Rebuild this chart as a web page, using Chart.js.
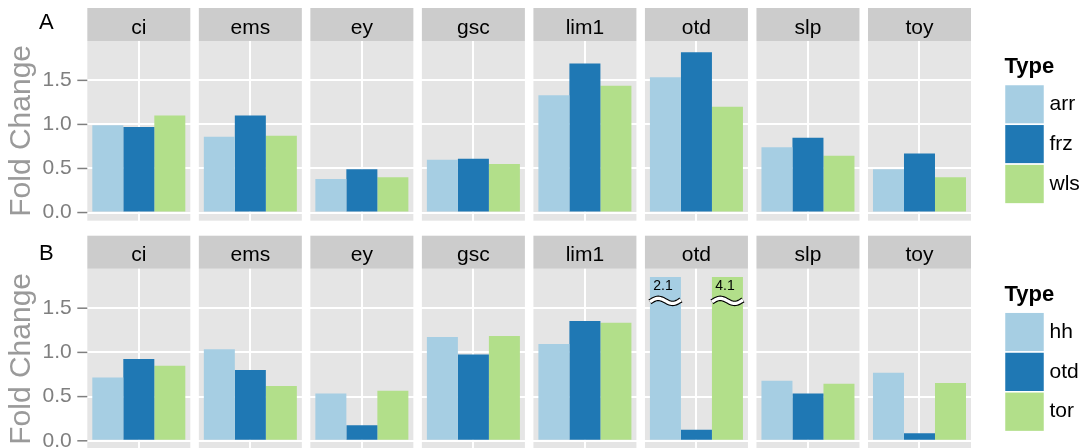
<!DOCTYPE html>
<html>
<head>
<meta charset="utf-8">
<script src="https://cdn.jsdelivr.net/npm/chart.js@4.4.1/dist/chart.umd.min.js"></script>
<style>
  body { margin: 0; background: #fff; overflow: hidden; width: 1084px; height: 448px; }
  .row { position: absolute; left: 0; width: 1084px; }
</style>
</head>
<body>
<div class="row" style="top:0"><canvas id="chartA" width="1084" height="230"></canvas></div>
<div class="row" style="top:224px"><canvas id="chartB" width="1084" height="240"></canvas></div>
<script>
// facets (genes) shared by both rows
const facets = ['ci', 'ems', 'ey', 'gsc', 'lim1', 'otd', 'slp', 'toy'];

// row A: fold change per type
const typesA = ['arr', 'frz', 'wls'];
const arrVals = [0.99, 0.86, 0.38, 0.60, 1.33, 1.535, 0.74, 0.49];
const frzVals = [0.97, 1.10, 0.49, 0.61, 1.69, 1.82, 0.85, 0.67];
const wlsVals = [1.10, 0.87, 0.40, 0.55, 1.44, 1.20, 0.645, 0.40];

// row B: fold change per type
const typesB = ['hh', 'otd', 'tor'];
const hhVals = [0.715, 1.035, 0.535, 1.175, 1.095, 2.1, 0.68, 0.77];
const otdVals = [0.925, 0.80, 0.175, 0.975, 1.355, 0.125, 0.535, 0.085];
const torVals = [0.85, 0.62, 0.565, 1.185, 1.335, 4.1, 0.645, 0.655];

const yMajor = [0, 0.5, 1.0, 1.5];
const yMinor = [0.25, 0.75, 1.25, 1.75];

const palette = ['#A6CEE3', '#1F78B4', '#B2DF8A'];
const FONT = "'Liberation Sans', Arial, sans-serif";

// bars above this are cut and get a break mark with their value
const yCap = 1.854;
const yMin = -0.0927, yMax = 1.9467;

const PANEL_W = 103;
const STRIP_H = 33;

const facetPlugin = {
  id: 'facets',
  beforeDraw(chart) {
    const { ctx, chartArea: area, scales: { x } } = chart;
    const o = chart.options.plugins.facets;
    ctx.save();
    facets.forEach((name, i) => {
      const cx = x.getPixelForValue(i);
      const l = cx - PANEL_W / 2;
      ctx.fillStyle = '#E5E5E5';
      ctx.fillRect(l, area.top, PANEL_W, area.bottom - area.top);
      ctx.fillStyle = '#CCCCCC';
      ctx.fillRect(l, area.top - STRIP_H, PANEL_W, STRIP_H);
      ctx.fillStyle = '#000';
      ctx.font = '21px ' + FONT;
      ctx.textAlign = 'center';
      ctx.textBaseline = 'alphabetic';
      ctx.fillText(name, cx, area.top - STRIP_H + 25.5);
    });
    // row tag
    ctx.font = '22px ' + FONT;
    ctx.textAlign = 'left';
    ctx.fillText(o.tag, 39, o.tagY);
    ctx.restore();
  },
  beforeDatasetsDraw(chart) {
    const { ctx, chartArea: area, scales: { y } } = chart;
    const top = y.getPixelForValue(yCap);
    ctx.save();
    ctx.beginPath();
    ctx.rect(area.left, top, area.right - area.left, area.bottom - top + 20);
    ctx.clip();
  },
  afterDatasetsDraw(chart) {
    const { ctx, scales: { y } } = chart;
    ctx.restore();
    const top = y.getPixelForValue(yCap);
    chart.data.datasets.forEach((ds, di) => {
      chart.getDatasetMeta(di).data.forEach((bar, i) => {
        const v = ds.data[i];
        if (v <= yCap) return;
        const l = bar.x - bar.width / 2, w = bar.width;
        const yc = top + 24;
        const wave = () => {
          ctx.beginPath();
          for (let k = 0; k <= 30; k++) {
            const t = k / 30;
            const py = yc - 3 * Math.sin(2 * Math.PI * t) - 2 * t + 1;
            k ? ctx.lineTo(l + t * w, py) : ctx.moveTo(l + t * w, py);
          }
          ctx.stroke();
        };
        ctx.save();
        ctx.lineCap = 'butt';
        ctx.strokeStyle = '#000';
        ctx.lineWidth = 5.5;
        wave();
        ctx.strokeStyle = '#fff';
        ctx.lineWidth = 3.2;
        wave();
        ctx.fillStyle = '#000';
        ctx.font = '14px ' + FONT;
        ctx.textAlign = 'center';
        ctx.textBaseline = 'middle';
        ctx.fillText(v.toFixed(1), bar.x - 2.5, top + 9);
        ctx.restore();
      });
    });
  },
  afterDraw(chart) {
    const { ctx, chartArea: area, scales: { x, y } } = chart;
    ctx.save();
    // y tick marks next to the first panel
    const pl = x.getPixelForValue(0) - PANEL_W / 2;
    ctx.strokeStyle = '#7F7F7F';
    ctx.lineWidth = 1.5;
    yMajor.forEach(v => {
      const py = y.getPixelForValue(v);
      ctx.beginPath();
      ctx.moveTo(pl - 10, py);
      ctx.lineTo(pl, py);
      ctx.stroke();
    });
    // legend
    const lx = 1004.5;
    ctx.fillStyle = '#000';
    ctx.font = 'bold 22px ' + FONT;
    ctx.textAlign = 'left';
    ctx.textBaseline = 'alphabetic';
    ctx.fillText('Type', lx, area.top + 31.8);
    const k0 = area.top + 43.5, kh = 39.8;
    chart.data.datasets.forEach((ds, i) => {
      const ky = k0 + i * kh;
      ctx.fillStyle = ds.backgroundColor;
      ctx.fillRect(lx, ky, 40, kh);
      ctx.strokeStyle = '#fff';
      ctx.lineWidth = 1.5;
      ctx.strokeRect(lx, ky, 40, kh);
      ctx.fillStyle = '#000';
      ctx.font = '21px ' + FONT;
      ctx.textBaseline = 'middle';
      ctx.fillText(ds.label, lx + 45, ky + kh / 2);
    });
    ctx.restore();
  }
};

function makeRow(id, types, series, opts) {
  return new Chart(document.getElementById(id), {
    type: 'bar',
    data: {
      labels: facets,
      datasets: types.map((t, i) => ({
        label: t,
        data: series[i],
        backgroundColor: palette[i],
        borderWidth: 0,
        barPercentage: 1,
        categoryPercentage: 0.834
      }))
    },
    options: {
      responsive: false,
      animation: false,
      events: [],
      layout: { padding: { top: opts.top, bottom: opts.bottom, left: 0, right: 108.75 } },
      plugins: {
        legend: { display: false },
        tooltip: { enabled: false },
        facets: { tag: opts.tag, tagY: opts.tagY }
      },
      scales: {
        x: {
          afterFit: s => { s.height = 0; s.paddingLeft = 0; s.paddingRight = 0; },
          ticks: { display: false },
          border: { display: false },
          grid: { offset: false, color: '#fff', lineWidth: 2, drawTicks: false }
        },
        y: {
          min: yMin,
          max: yMax,
          afterFit: s => { s.width = 83.05; s.paddingTop = 0; s.paddingBottom = 0; },
          afterBuildTicks: s => {
            s.ticks = yMajor.concat(yMinor).sort((a, b) => a - b).map(v => ({ value: v }));
          },
          ticks: {
            padding: 11.35,
            color: '#7F7F7F',
            font: { family: FONT, size: 21 },
            callback: v => yMajor.includes(v) ? v.toFixed(1) : ''
          },
          border: { display: false },
          grid: {
            drawTicks: false,
            color: c => yMajor.includes(c.tick.value) ? '#fff' : 'rgba(255,255,255,0.5)',
            lineWidth: c => yMajor.includes(c.tick.value) ? 2 : 1.2
          },
          title: {
            display: true,
            text: 'Fold Change',
            color: '#9A9A9A',
            font: { family: FONT, size: 30 },
            padding: { top: 4, bottom: 0 }
          }
        }
      }
    },
    plugins: [facetPlugin]
  });
}

makeRow('chartA', typesA, [arrVals, frzVals, wlsVals], { top: 41, bottom: 9.3, tag: 'A', tagY: 29.3 });
makeRow('chartB', typesB, [hhVals, otdVals, torVals], { top: 44.7, bottom: 15, tag: 'B', tagY: 36 });
</script>
</body>
</html>
